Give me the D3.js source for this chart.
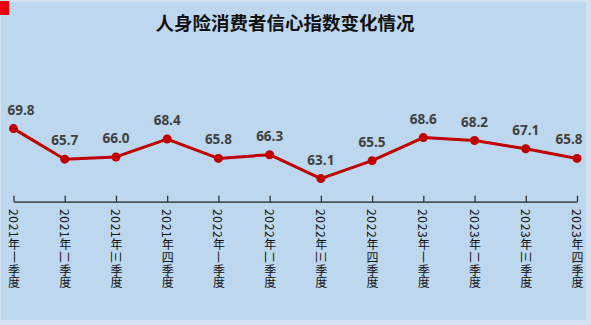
<!DOCTYPE html>
<html>
<head>
<meta charset="utf-8">
<script src="https://cdn.jsdelivr.net/npm/d3@7"></script>
<style>
  html, body { margin: 0; padding: 0; background: #d2e2f2; }
  svg { display: block; }
  .vlabel { writing-mode: vertical-rl; text-orientation: mixed; }
  .side { text-orientation: sideways; }
</style>
</head>
<body>
<script>
const years = ["2021", "2021", "2021", "2021", "2022", "2022", "2022", "2022", "2023", "2023", "2023", "2023"];
const quarters = ["一", "二", "三", "四", "一", "二", "三", "四", "一", "二", "三", "四"];
const categories = years.map((y, i) => `${y}年${quarters[i]}季度`);
const values = [69.8, 65.7, 66.0, 68.4, 65.8, 66.3, 63.1, 65.5, 68.6, 68.2, 67.1, 65.8];

const width = 591, height = 325;

const svg = d3.select("body").append("svg")
	.attr("width", width)
	.attr("height", height);

// chart area background
svg.append("rect")
	.attr("x", 1)
	.attr("y", 2)
	.attr("width", 585)
	.attr("height", 318)
	.attr("fill", "#bdd7ee");

// little red marker in the corner
svg.append("rect")
	.attr("x", 0)
	.attr("y", 1)
	.attr("width", 9)
	.attr("height", 14)
	.attr("fill", "#ee0000");

svg.append("text")
	.attr("x", 285)
	.attr("y", 30)
	.attr("text-anchor", "middle")
	.attr("font-family", "'Noto Sans CJK SC', sans-serif")
	.attr("font-size", 18.5)
	.attr("font-weight", "bold")
	.attr("fill", "#111")
	.text("人身险消费者信心指数变化情况");

const x = d3.scalePoint()
	.domain(categories)
	.range([13.5, 577]);

const y = d3.scaleLinear()
	.domain([60, 72])
	.range([201.7, 112.2]);

// x axis with ticks pointing up
const axisG = svg.append("g")
	.attr("transform", `translate(0, ${y(60)})`)
	.call(d3.axisBottom(x).tickSize(-6).tickSizeOuter(0).tickFormat(""));
axisG.select(".domain").attr("stroke", "#222").attr("stroke-width", 1.2);
axisG.selectAll(".tick line").attr("stroke", "#222").attr("stroke-width", 1.2);

// vertical tick labels, one text each; the quarter numeral is turned sideways
const labels = svg.append("g")
	.selectAll("text")
	.data(categories)
	.join("text")
	.attr("class", "vlabel")
	.attr("x", d => x(d) + 0.5)
	.attr("y", 209)
	.attr("font-family", "'Noto Sans CJK SC', sans-serif")
	.attr("font-size", 12)
	.attr("letter-spacing", 0.7)
	.attr("fill", "#111");

labels.each(function(d, i) {
	const t = d3.select(this);
	t.append("tspan").text(`${years[i]}年`);
	t.append("tspan")
		.attr("class", quarters[i] === "四" ? null : "side")
		.text(quarters[i]);
	t.append("tspan").text("季度");
});

const line = d3.line()
	.x((d, i) => x(categories[i]))
	.y(d => y(d));

svg.append("path")
	.datum(values)
	.attr("d", line)
	.attr("fill", "none")
	.attr("stroke", "#c00000")
	.attr("stroke-width", 3)
	.attr("stroke-linejoin", "round");

svg.append("g")
	.selectAll("circle")
	.data(values)
	.join("circle")
	.attr("cx", (d, i) => x(categories[i]))
	.attr("cy", d => y(d))
	.attr("r", 4.5)
	.attr("fill", "#c00000");

svg.append("g")
	.selectAll("text")
	.data(values)
	.join("text")
	.attr("x", (d, i) => Math.min(Math.max(x(categories[i]), 21), 569))
	.attr("y", d => y(d) - 14)
	.attr("text-anchor", "middle")
	.attr("font-family", "'Open Sans', 'Liberation Sans', sans-serif")
	.attr("font-size", 13.5)
	.attr("font-weight", "bold")
	.attr("fill", "#404040")
	.text(d => d.toFixed(1));
</script>
</body>
</html>
